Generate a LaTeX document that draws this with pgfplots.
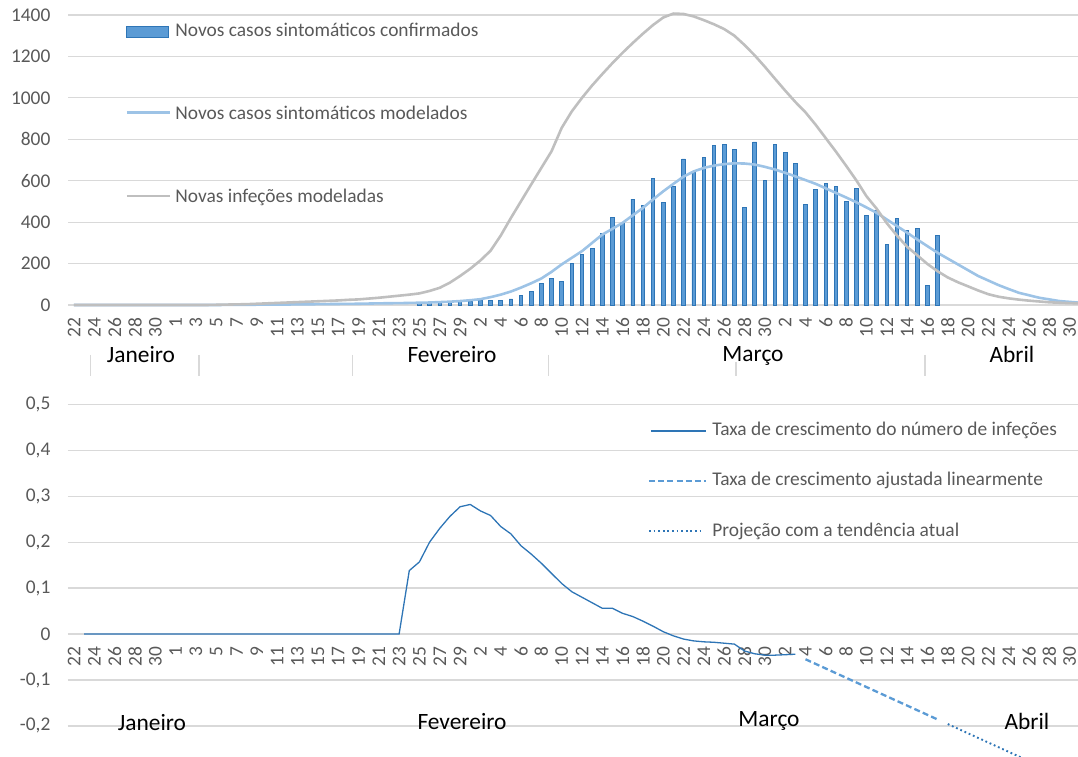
\documentclass[border=0pt]{standalone}
\usepackage{pgfplots}
\pgfplotsset{compat=1.18}
\usepackage{pgfplotstable}
\usepackage{fontspec}
\setmainfont{Carlito}
\definecolor{txt}{HTML}{595959}
\definecolor{gridc}{HTML}{D9D9D9}
\definecolor{barfill}{HTML}{5B9BD5}
\definecolor{bardraw}{HTML}{2E75B6}
\definecolor{lblue}{HTML}{9DC3E6}
\definecolor{lgray}{HTML}{BFBFBF}
\definecolor{dblue}{HTML}{2E75B6}
\definecolor{mblue}{HTML}{5B9BD5}
\newcommand\tfont{\fontsize{9.7bp}{11bp}\selectfont}
\newcommand\mfont{\fontsize{11.7bp}{13bp}\selectfont}

\pgfplotstableread{
x y
34 14
35 13
36 14
37 11
38 18
39 19
40 24
41 24
42 22
43 29
44 48
45 67
46 104
47 128
48 112
49 199
50 244
51 275
52 344
53 424
54 392
55 511
56 480
57 610
58 493
59 573
60 705
61 642
62 710
63 769
64 774
65 750
66 469
67 787
68 601
69 774
70 736
71 681
72 485
73 556
74 586
75 573
76 501
77 562
78 430
79 456
80 292
81 418
82 360
83 368
84 93
85 336
}\confirmed

\pgfplotstableread{
x y
0 0
14 0
15 0.5
16 1
17 1
18 1.5
19 2
20 2
21 2.5
22 3
23 3.5
24 4
25 4.5
26 5
27 5.5
28 6
29 7
30 8
31 8.5
32 9
33 10
34 11
35 12
36 14
37 16
38 19
39 23
40 28
41 38
42 50
43 65
44 84
45 105
46 128
47 160
48 196
49 228
50 260
51 300
52 340
53 368
54 397
55 433
56 469
57 510
58 549
59 585
60 620
61 645
62 662
63 673
64 680
65 684
66 683
67 678
68 667
69 654
70 638
71 621
72 603
73 585
74 563
75 541
76 519
77 496
78 471
79 445
80 413
81 381
82 349
83 316
84 284
85 252
86 224
87 196
88 168
89 140
90 118
91 96
92 77
93 59
94 47
95 35
96 27
97 19
98 15
99 11
}\modeled

\pgfplotstableread{
x y
0 0
13 0
14 1
15 2
16 3
17 4
18 6
19 8
20 10
21 12
22 14
23 16
24 18
25 20
26 22
27 25
28 27
29 31
30 35
31 40
32 45
33 50
34 56
35 68
36 83
37 108
38 140
39 175
40 215
41 262
42 335
43 420
44 501
45 582
46 662
47 742
48 855
49 935
50 1000
51 1060
52 1115
53 1168
54 1218
55 1265
56 1310
57 1352
58 1388
59 1407
60 1405
61 1393
62 1375
63 1355
64 1332
65 1300
66 1255
67 1205
68 1150
69 1092
70 1035
71 980
72 930
73 870
74 805
75 740
76 672
77 602
78 525
79 465
80 395
81 335
82 281
83 240
84 198
85 163
86 133
87 110
88 90
89 70
90 52
91 40
92 32
93 26
94 21
95 17
96 13
97 11
98 9
99 8
}\infections

\pgfplotstableread{
x y
1 0
32 0
33 0.138
34 0.157
35 0.200
36 0.230
37 0.256
38 0.277
39 0.282
40 0.268
41 0.258
42 0.234
43 0.218
44 0.192
45 0.174
46 0.154
47 0.132
48 0.110
49 0.092
50 0.080
51 0.068
52 0.056
53 0.056
54 0.045
55 0.038
56 0.028
57 0.017
58 0.005
59 -0.004
60 -0.011
61 -0.015
62 -0.017
63 -0.018
64 -0.020
65 -0.022
66 -0.037
67 -0.043
68 -0.046
69 -0.046
70 -0.045
71 -0.044
}\growth

\pgfplotstableread{
x y
72 -0.055
85 -0.186
}\fitted

\pgfplotstableread{
x y
86 -0.196
99 -0.327
}\projection

\pgfplotsset{
  common/.style={
    scale only axis, width=505bp,
    xmin=-0.59, xmax=98.82,
    axis line style={draw=none},
    major tick length=0pt, tick style={draw=none},
    ymajorgrids, grid style={gridc, line width=0.6bp},
    xtick={0,2,...,98},
    xticklabels={22,24,26,28,30,1,3,5,7,9,11,13,15,17,19,21,23,25,27,29,2,4,6,8,10,12,14,16,18,20,22,24,26,28,30,2,4,6,8,10,12,14,16,18,20,22,24,26,28,30},
    xticklabel style={yshift=-6.3bp, rotate=90, anchor=east, inner sep=0pt},
    yticklabel style={xshift=-8.6bp, anchor=east, inner sep=0pt},
    ticklabel style={font=\tfont, text=txt},
    /pgf/number format/assume math mode=true,
    /pgf/number format/1000 sep={},
  }
}

\begin{document}
\begin{tikzpicture}
\path[use as bounding box] (0,0) rectangle (539bp,-378.5bp);

\begin{axis}[common,
  at={(34bp,-152.5bp)}, anchor=south west, height=145bp,
  ymin=0, ymax=1400, ytick={0,200,...,1400},
  clip=false]
\addplot[ybar, bar width=1.8bp, fill=barfill, draw=bardraw, line width=0.45bp] table {\confirmed};
\addplot[lblue, line width=1.3bp] table {\modeled};
\addplot[lgray, line width=1.3bp] table {\infections};
\end{axis}

\begin{axis}[common,
  at={(34bp,-378.5bp)}, anchor=south west, height=176.35bp,
  ymin=-0.2677, ymax=0.5,
  axis x line*=middle, axis y line*=left,
  hide obscured x ticks=false, hide obscured y ticks=false,
  ytick={-0.2,-0.1,0,0.1,0.2,0.3,0.4,0.5},
  yticklabels={{-0,2},{-0,1},0,{0,1},{0,2},{0,3},{0,4},{0,5}},
  clip=true]
\addplot[dblue, line width=0.65bp] table {\growth};
\addplot[mblue, line width=1.15bp, dash pattern=on 3bp off 1.6bp] table {\fitted};
\addplot[dblue, line width=0.95bp, dash pattern=on 0.9bp off 1.4bp] table {\projection};
\end{axis}

\begin{scope}[x=0.5bp, y=-0.5bp]
  % top legend
  \draw[fill=barfill, draw=bardraw, line width=0.5bp] (127,27) rectangle (169,38);
  \node[anchor=base west, inner sep=0pt, text=txt, font=\tfont] at (175,36.7) {Novos casos sintomáticos confirmados};
  \draw[lblue, line width=1.3bp] (127,112.7) -- (170,112.7);
  \node[anchor=base west, inner sep=0pt, text=txt, font=\tfont] at (175,120) {Novos casos sintomáticos modelados};
  \draw[lgray, line width=1.3bp] (127,196) -- (170,196);
  \node[anchor=base west, inner sep=0pt, text=txt, font=\tfont] at (175,202.7) {Novas infeções modeladas};
  % bottom legend
  \draw[dblue, line width=0.65bp] (651,431) -- (706,431);
  \node[anchor=base west, inner sep=0pt, text=txt, font=\tfont] at (712,436) {Taxa de crescimento do número de infeções};
  \draw[mblue, line width=1.15bp, dash pattern=on 3bp off 1.6bp] (649,480.7) -- (706,480.7);
  \node[anchor=base west, inner sep=0pt, text=txt, font=\tfont] at (712,486) {Taxa de crescimento ajustada linearmente};
  \draw[dblue, line width=0.95bp, dash pattern=on 0.9bp off 1.4bp] (649,530.7) -- (702,530.7);
  \node[anchor=base west, inner sep=0pt, text=txt, font=\tfont] at (712,536.7) {Projeção com a tendência atual};
  % month labels top
  \node[anchor=base, inner sep=0pt, font=\mfont] at (141,363) {Janeiro};
  \node[anchor=base, inner sep=0pt, font=\mfont] at (452,363) {Fevereiro};
  \node[anchor=base, inner sep=0pt, font=\mfont] at (753,362) {Março};
  \node[anchor=base, inner sep=0pt, font=\mfont] at (1012,363) {Abril};
  % separators
  \foreach \sx in {90.7,199,352.3,548.3,925} {\draw[gridc, line width=0.7bp] (\sx,355) -- (\sx,376);}
  \draw[gridc, line width=0.7bp] (736,362) -- (736,376);
  % month labels bottom
  \node[anchor=base, inner sep=0pt, font=\mfont] at (152,731) {Janeiro};
  \node[anchor=base, inner sep=0pt, font=\mfont] at (462,730) {Fevereiro};
  \node[anchor=base, inner sep=0pt, font=\mfont] at (769,727) {Março};
  \node[anchor=base, inner sep=0pt, font=\mfont] at (1027,730) {Abril};
\end{scope}
\end{tikzpicture}
\end{document}
